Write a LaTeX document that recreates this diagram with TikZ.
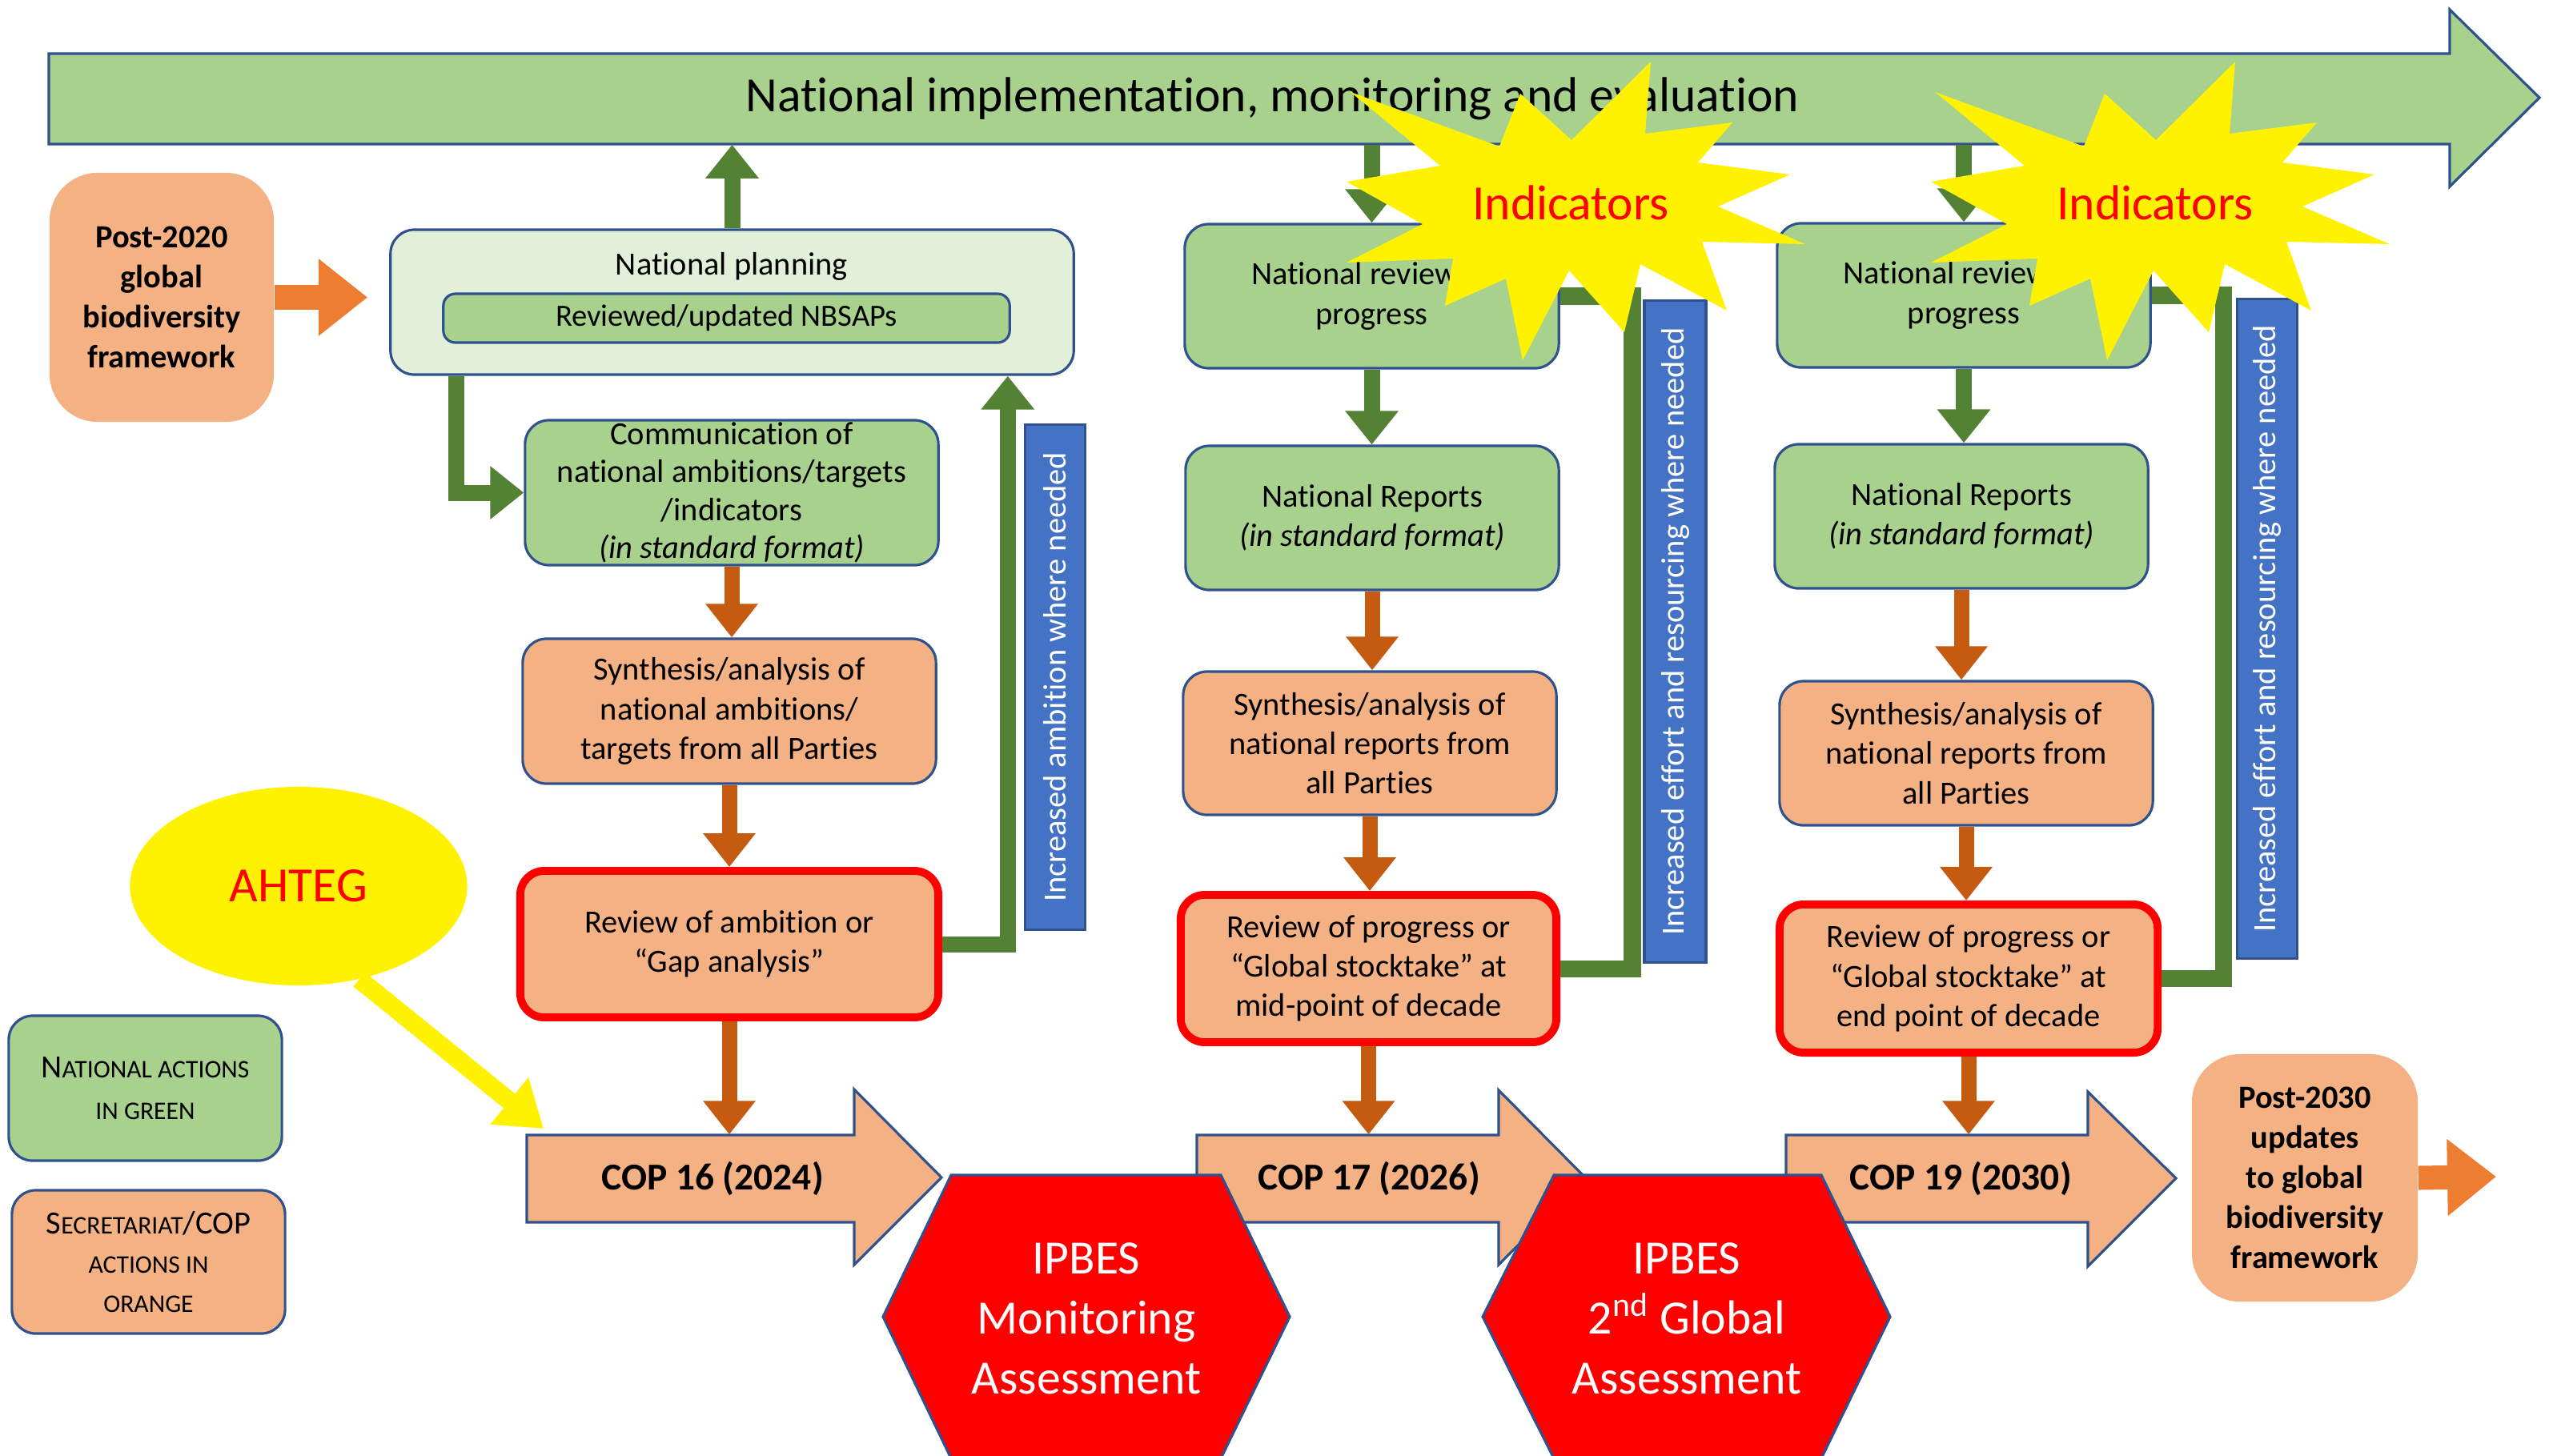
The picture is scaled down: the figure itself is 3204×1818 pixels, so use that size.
\documentclass[tikz,border=0pt]{standalone}
\usepackage{fontspec}
\setmainfont{Carlito}[Ligatures={TeX,NoCommon}]
\usepackage{tikz}
\usetikzlibrary{arrows.meta, positioning, shapes.geometric}

\definecolor{boxgreen}{HTML}{A9D18E}
\definecolor{palegreen}{HTML}{E2F0D9}
\definecolor{boxorange}{HTML}{F4B183}
\definecolor{edgeblue}{HTML}{2F528F}
\definecolor{arrgreen}{HTML}{548235}
\definecolor{arrbrown}{HTML}{C55A11}
\definecolor{arrorange}{HTML}{ED7D31}
\definecolor{labelblue}{HTML}{4472C4}

\newcommand{\smc}[1]{{\fontsize{9}{14}\selectfont #1}}
\newcommand{\burst}[1]{\fill[yellow, shift={#1}] (102,-178) -- (95,-88) -- (204,-102) -- (161,-52) -- (276,-37) -- (186,3) -- (295,50) -- (166,47) -- (197,133) -- (89,75) -- (69,160) -- (0,83) -- (-58,195) -- (-79,93) -- (-155,127) -- (-145,68) -- (-278,73) -- (-183,25) -- (-278,-28) -- (-161,-48) -- (-273,-140) -- (-87,-72) -- (-61,-138) -- (3,-80) -- cycle;}

\begin{document}
\begin{tikzpicture}[x=0.01cm, y=-0.01cm,
        every node/.style={align=center, inner sep=0pt, font=\fontsize{11.5}{14}\selectfont},
        gbox/.style={draw=edgeblue, line width=0.9pt, fill=boxgreen, rounded corners=0.3cm},
        obox/.style={gbox, fill=boxorange},
        redbox/.style={obox, draw=red, line width=2.8pt},
        bigbox/.style={fill=boxorange, rounded corners=0.6cm, font=\bfseries\fontsize{11.5}{14.2}\selectfont},
        sidelab/.style={fill=labelblue, draw=edgeblue, line width=0.9pt, text=white, rotate=90, minimum height=0.75cm},
        grarrow/.style={draw=arrgreen, line width=0.2cm, -{Triangle[length=0.42cm, width=0.64cm]}},
        grline/.style={draw=arrgreen, line width=0.21cm},
        brarrow/.style={draw=arrbrown, line width=0.19cm, -{Triangle[length=0.42cm, width=0.63cm]}},
        orarrow/.style={draw=arrorange, line width=0.3cm, -{Triangle[length=0.61cm, width=0.92cm]}},
        yelarrow/.style={draw=yellow, line width=0.23cm, -{Triangle[length=0.55cm, width=0.72cm]}},
        coparrow/.style={draw=edgeblue, line width=0.9pt, fill=boxorange},
        coptext/.style={font=\bfseries\fontsize{13.5}{16}\selectfont, minimum height=1.09cm},
        hexshape/.style={draw=edgeblue, line width=0.9pt, fill=red},
        hextext/.style={text=white, font=\fontsize{17}{21.3}\selectfont},
        bigtext/.style={font=\fontsize{17.5}{21}\selectfont},
    ]
    \useasboundingbox (0,0) rectangle (3204,1818);

    % banner
    \draw[coparrow, fill=boxgreen] (61,67) -- (3060,67) -- (3060,12) -- (3172,122) -- (3060,233) -- (3060,180) -- (61,180) -- cycle;
    \node[bigtext, minimum width=29.99cm, minimum height=1.13cm] (banner) at (1560.5,123.5) {\hspace*{0.58cm}National implementation, monitoring and evaluation};

    % national planning
    \node[bigbox, minimum width=2.8cm, minimum height=3.11cm] (post20) at (202,371.5) {Post-2020\\global\\biodiversity\\framework};
    \node[gbox, fill=palegreen, minimum width=8.53cm, minimum height=1.81cm] (plan) at (914.5,377.5) {};
    \node (plantxt) at (914,333) {National planning};
    \node[gbox, minimum width=7.07cm, minimum height=0.61cm, rounded corners=0.15cm, font=\fontsize{11}{13}\selectfont] (nbsap) at (907.5,397.5) {Reviewed/updated NBSAPs};
    \draw[orarrow, shorten >=0.27cm] (post20.east) -- (post20.east -| plan.west);

    % first column
    \node[gbox, minimum width=5.16cm, minimum height=1.81cm, font=\fontsize{11.5}{13.5}\selectfont] (comm) at (914,615.5) {Communication of\\national ambitions/targets\\/indicators\\\textit{(in standard format)}};
    \node[obox, minimum width=5.16cm, minimum height=1.81cm] (syn1) at (911,888.5) {Synthesis/analysis of\\national ambitions/\\targets from all Parties};
    \node[redbox, minimum width=5.22cm, minimum height=1.83cm] (rev1) at (911,1179.5) {Review of ambition or\\“Gap analysis”};
    \node[sidelab, minimum width=6.3cm] (lab1) at (1318,846) {Increased ambition where needed};

    % second column
    \draw[grline] (2038,1210) -- (2038,365);
    \node[gbox, minimum width=4.67cm, minimum height=1.8cm] (rv2) at (1713.5,370) {National review of\\progress};
    \node[gbox, minimum width=4.66cm, minimum height=1.8cm] (nr2) at (1714,647) {National Reports\\\textit{(in standard format)}};
    \node[obox, minimum width=4.66cm, minimum height=1.79cm] (syn2) at (1711,928.5) {Synthesis/analysis of\\national reports from\\all Parties};
    \node[redbox, minimum width=4.69cm, minimum height=1.84cm] (rev2) at (1709.5,1210) {Review of progress or\\“Global stocktake” at\\mid-point of decade};
    \node[sidelab, minimum width=8.26cm, minimum height=0.77cm] (lab2) at (2092.5,789) {Increased effort and resourcing where needed};

    % third column
    \node[gbox, minimum width=4.66cm, minimum height=1.8cm] (rv3) at (2453,369) {National review of\\progress};
    \node[gbox, minimum width=4.66cm, minimum height=1.8cm] (nr3) at (2450,645) {National Reports\\\textit{(in standard format)}};
    \node[obox, minimum width=4.66cm, minimum height=1.8cm] (syn3) at (2456,941) {Synthesis/analysis of\\national reports from\\all Parties};
    \node[redbox, minimum width=4.72cm, minimum height=1.85cm] (rev3) at (2459,1222.5) {Review of progress or\\“Global stocktake” at\\end point of decade};
    \node[sidelab, minimum width=8.23cm] (lab3) at (2832,785.5) {Increased effort and resourcing where needed};

    % COP arrows
    \draw[coparrow] (658,1418) -- (1067,1418) -- (1067,1361) -- (1176,1471) -- (1067,1580) -- (1067,1527) -- (658,1527) -- cycle;
    \node[coptext] (cop16) at (890,1472.5) {COP 16 (2024)};
    \draw[coparrow] (1495,1418) -- (1872,1418) -- (1872,1362) -- (1980,1471) -- (1872,1580) -- (1872,1527) -- (1495,1527) -- cycle;
    \node[coptext] (cop17) at (1710,1472.5) {COP 17 (2026)};
    \draw[coparrow] (2231,1418) -- (2608,1418) -- (2608,1364) -- (2718,1472) -- (2608,1582) -- (2608,1527) -- (2231,1527) -- cycle;
    \node[coptext] (cop19) at (2449,1472.5) {COP 19 (2030)};
    \node[bigbox, minimum width=2.82cm, minimum height=3.09cm] (post30) at (2879,1471.5) {Post-2030\\updates\\to global\\biodiversity\\framework};
    \coordinate (out30) at (3118,1470);
    \draw[orarrow] (post30.east) -- (out30);

    % connectors
    \draw[grarrow] (plan.north) -- (plan.north |- banner.south);
    \draw[grarrow] ([xshift=0.84cm]plan.south west) |- (comm.west);
    \draw[brarrow] (comm.south) -- (comm.south |- syn1.north);
    \draw[brarrow] (syn1.south) -- (syn1.south |- rev1.north);
    \draw[brarrow] (rev1.south) -- (rev1.south |- cop16.north);
    \draw[grarrow] (rev1.east) -| ([xshift=-0.84cm]plan.south east);

    \draw[grarrow] (rv2.north |- banner.south) -- (rv2.north);
    \draw[grarrow] (rv2.south) -- (rv2.south |- nr2.north);
    \draw[brarrow] (nr2.south) -- (nr2.south |- syn2.north);
    \draw[brarrow] (syn2.south) -- (syn2.south |- rev2.north);
    \draw[brarrow] (rev2.south) -- (rev2.south |- cop17.north);
    \draw[grline] (rev2.east) -| ([xshift=0.91cm]rv2.east) -- (rv2.east);

    \draw[grarrow] (rv3.north |- banner.south) -- (rv3.north);
    \draw[grarrow] (rv3.south) -- (rv3.south |- nr3.north);
    \draw[brarrow] (nr3.south) -- (nr3.south |- syn3.north);
    \draw[brarrow] (syn3.south) -- (syn3.south |- rev3.north);
    \draw[brarrow] (rev3.south) -- (rev3.south |- cop19.north);
    \draw[grline] (rev3.east) -| ([xshift=0.9cm]rv3.east) -- (rv3.east);

    % indicators
    \burst{(1960,255)}
    \node[bigtext, text=red] (ind1) at (1962,253) {Indicators};
    \burst{(2690,255)}
    \node[bigtext, text=red] (ind2) at (2692,253) {Indicators};

    % IPBES
    \draw[hexshape] (1188,1468) -- (1525,1468) -- (1611,1645) -- (1525,1822) -- (1188,1822) -- (1103,1645) -- cycle;
    \node[hextext] (ipbes1) at (1357,1647) {IPBES\\Monitoring\\Assessment};
    \draw[hexshape] (1941,1468) -- (2275,1468) -- (2361,1645) -- (2275,1822) -- (1941,1822) -- (1852,1645) -- cycle;
    \node[hextext] (ipbes2) at (2107,1647) {IPBES\\2\textsuperscript{nd} Global\\Assessment};

    % AHTEG and legend
    \node[ellipse, fill=yellow, minimum width=4.21cm, minimum height=2.48cm, bigtext, text=red] (ahteg) at (373,1107) {AHTEG};
    \coordinate (ahtegtip) at (679,1410);
    \draw[yelarrow] (ahteg.-57) -- (ahtegtip);
    \node[gbox, minimum width=3.41cm, minimum height=1.81cm, font=\fontsize{11.5}{15}\selectfont] (leg1) at (181.5,1359.5) {N\smc{ATIONAL ACTIONS}\\\smc{IN GREEN}};
    \node[obox, minimum width=3.41cm, minimum height=1.79cm] (leg2) at (185.5,1576.5) {S\smc{ECRETARIAT}/COP\\\smc{ACTIONS IN}\\\smc{ORANGE}};
\end{tikzpicture}
\end{document}
